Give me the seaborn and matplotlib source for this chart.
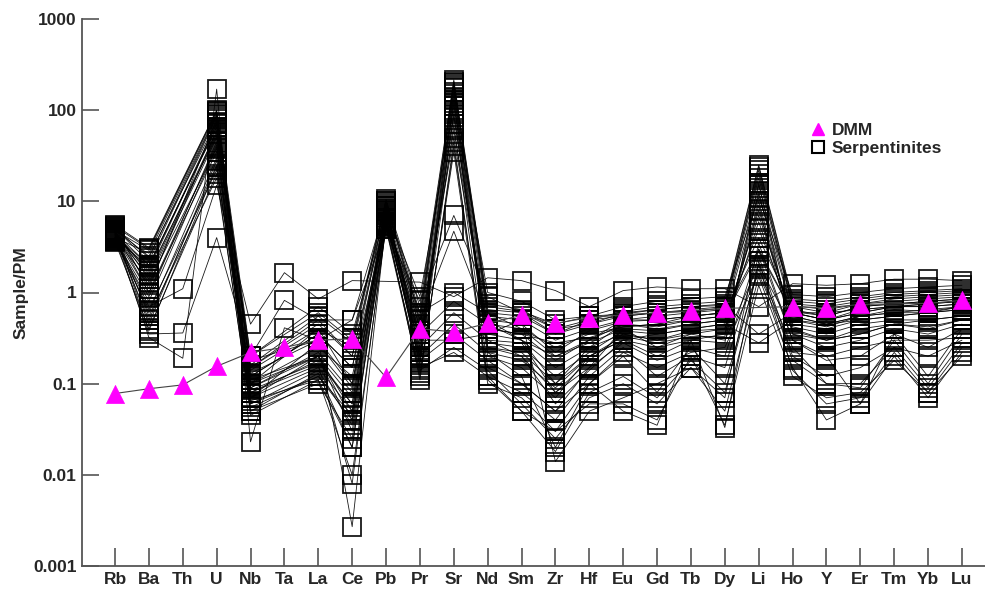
"""
Primitive-mantle normalised spider diagram: serpentinites vs DMM.
"""

import numpy as np
import pandas as pd
import matplotlib.pyplot as plt
import seaborn as sns
from matplotlib.lines import Line2D
from matplotlib.ticker import NullLocator

sns.set_style("ticks")
plt.rcParams["font.family"] = ["Liberation Sans", "DejaVu Sans"]

N = np.nan

ELEMENTS = ["Rb", "Ba", "Th", "U", "Nb", "Ta", "La", "Ce", "Pb", "Pr", "Sr", "Nd", "Sm",
            "Zr", "Hf", "Eu", "Gd", "Tb", "Dy", "Li", "Ho", "Y", "Er", "Tm", "Yb", "Lu"]

DMM = [0.078, 0.088, 0.097, 0.155, 0.22, 0.25, 0.30, 0.31, 0.117, 0.40, 0.37, 0.46, 0.56,
       0.46, 0.53, 0.57, 0.60, 0.63, 0.67, N, 0.70, 0.68, 0.74, N, 0.76, 0.82]

# serpentinite samples, one list per sample in ELEMENTS order (N = not analysed)
S01 = [4.8, 2.9, N, 95, 0.12, N, 0.35, 0.15, 9.5, 0.45, 200, 0.55, 0.5, 0.3, 0.4, 0.5, 0.55, 0.6, 0.65, 18, 0.7, 0.6, 0.75, 0.8, 0.85, 0.9]
S02 = [4.2, 1.8, N, 70, 0.09, N, 0.22, 0.08, 8.0, 0.3, 150, 0.4, 0.35, 0.18, 0.3, 0.45, 0.42, 0.5, 0.55, 12, 0.6, 0.5, 0.65, 0.7, 0.75, 0.8]
S03 = [5.5, 3.1, N, 100, 0.2, N, 0.6, 0.3, 10.5, 0.7, 215, 0.75, 0.65, 0.4, 0.5, 0.62, 0.7, 0.75, 0.8, 25, 0.85, 0.8, 0.9, 1.0, 1.05, 1.1]
S04 = [3.8, 0.9, N, 45, 0.07, N, 0.15, 0.05, 6.5, 0.2, 90, 0.25, 0.22, 0.1, 0.25, 0.35, 0.3, 0.35, 0.4, 6.0, 0.45, 0.4, 0.5, 0.55, 0.6, 0.65]
S05 = [4.5, 1.2, N, 60, 0.06, N, 0.12, 0.04, 7.0, 0.16, 120, 0.2, 0.15, 0.07, 0.2, 0.3, 0.25, 0.3, 0.35, 9.0, 0.35, 0.3, 0.4, 0.45, 0.5, 0.55]
S06 = [4.0, 0.6, N, 30, 0.1, N, 0.25, 0.12, 5.5, 0.35, 60, 0.45, 0.4, 0.25, 0.35, 0.42, 0.45, 0.55, 0.6, 4.0, 0.65, 0.55, 0.7, 0.75, 0.8, 0.85]
S07 = [5.0, 2.2, N, 85, 0.15, N, 0.45, 0.2, 9.0, 0.55, 180, 0.6, 0.55, 0.35, 0.45, 0.55, 0.6, 0.65, 0.7, 20, 0.75, 0.7, 0.8, 0.9, 0.95, 1.0]
S08 = [3.6, 0.4, N, 20, 0.05, N, 0.1, 0.025, 5.0, 0.12, 40, 0.12, 0.08, 0.04, 0.12, 0.25, 0.12, 0.2, 0.15, 2.5, 0.2, 0.12, 0.15, 0.25, 0.2, 0.3]
S09 = [4.3, 1.5, N, 55, 0.08, N, 0.18, 0.06, 7.5, 0.22, 100, 0.28, 0.25, 0.12, 0.22, 0.38, 0.35, 0.4, 0.45, 8.0, 0.5, 0.42, 0.55, 0.6, 0.65, 0.7]
S10 = [4.9, 2.5, N, 75, 0.13, N, 0.3, 0.1, 8.5, 0.4, 160, 0.5, 0.45, 0.22, 0.38, 0.48, 0.5, 0.55, 0.6, 15, 0.62, 0.55, 0.7, 0.75, 0.8, 0.85]
S11 = [4.1, 0.7, 1.1, 15, 0.45, 1.65, 0.85, 1.35, N, 1.3, 0.9, 1.45, 1.35, 1.05, 0.7, 1.05, 1.15, 1.1, 1.1, 0.7, 1.25, 1.2, 1.25, 1.4, 1.4, 1.35]
S12 = [3.9, 0.35, 0.36, 4.0, 0.2, 0.82, 0.5, 0.5, 5.0, 0.8, 7.0, 0.9, 0.6, 0.4, 0.45, 0.6, 0.65, 0.7, 0.72, 0.35, 0.6, 0.6, 0.65, 0.7, 0.75, 0.8]
S13 = [4.4, 0.32, 0.19, 170, 0.023, 0.41, 0.3, 0.0027, 6.0, 0.5, 4.7, 0.5, 0.3, 0.1, 0.2, 0.3, 0.35, 0.4, 0.45, 0.28, 0.5, 0.45, 0.5, 0.55, 0.6, 0.65]
S14 = [4.6, 1.0, N, 35, 0.1, N, 0.4, 0.1, 6.0, 0.6, 1.0, 0.6, 0.4, 0.2, 0.3, 0.5, 0.5, 0.55, 0.6, 3.0, 0.6, 0.5, 0.6, 0.7, 0.7, 0.75]
S15 = [4.0, 0.5, N, 25, 0.07, N, 0.2, 0.03, 5.5, 0.25, 0.6, 0.3, 0.2, 0.08, 0.15, 0.4, 0.25, 0.35, 0.3, 2.0, 0.4, 0.3, 0.35, 0.45, 0.4, 0.5]
S16 = [4.7, 1.4, N, 50, 0.05, N, 0.13, 0.02, 6.8, 0.18, 0.35, 0.18, 0.1, 0.05, 0.1, 0.2, 0.08, 0.25, 0.1, 1.8, 0.25, 0.1, 0.09, 0.3, 0.1, 0.35]
S17 = [3.7, 0.8, N, 40, 0.045, N, 0.11, 0.01, 5.2, 0.14, 0.25, 0.14, 0.06, 0.025, 0.07, 0.1, 0.06, 0.15, 0.05, 1.5, 0.15, 0.04, 0.06, 0.2, 0.07, 0.22]
S18 = [4.2, 2.0, N, 65, 0.15, N, 0.5, 0.2, 7.5, 0.35, 0.8, 0.45, 0.3, 0.15, 0.25, 0.45, 0.4, 0.45, 0.5, 5.0, 0.55, 0.45, 0.55, 0.6, 0.6, 0.7]
S19 = [5.2, 1.1, N, 80, 0.18, N, 0.3, 0.5, 9.0, 0.15, 0.22, 0.12, 0.05, 0.03, 0.06, 0.06, 0.04, 0.2, 0.035, 1.2, 0.12, 0.07, 0.08, 0.18, 0.08, 0.2]
S20 = [4.4, 0.45, N, 28, 0.08, N, 0.16, 0.008, 5.8, 0.2, 0.45, 0.22, 0.12, 0.02, 0.1, 0.05, 0.035, 0.3, 0.033, 2.2, 0.18, 0.1, 0.1, 0.25, 0.09, 0.28]
S21 = [4.6, 1.6, N, 58, 0.11, N, 0.2, 0.04, 7.8, 0.3, 0.3, 0.35, 0.5, 0.014, 0.05, 0.07, 0.1, 0.15, 0.07, 3.5, 0.3, 0.2, 0.06, 0.35, 0.12, 0.4]
S22 = [4.0, 2.7, N, 90, 0.14, N, 0.4, 0.25, 10, 0.5, 190, 0.65, 0.6, 0.35, 0.5, 0.55, 0.6, 0.62, 0.68, 22, 0.72, 0.65, 0.75, 0.85, 0.9, 0.95]
S23 = [3.9, 1.3, N, 38, 0.06, N, 0.14, 0.035, 6.2, 0.17, 70, 0.15, 0.1, 0.05, 0.15, 0.28, 0.18, 0.25, 0.2, 3.0, 0.3, 0.18, 0.2, 0.35, 0.25, 0.4]
S24 = [4.8, 0.55, N, 18, 0.055, N, 0.12, 0.045, 5.3, 0.13, 35, 0.1, 0.07, 0.03, 0.1, 0.22, 0.15, 0.22, 0.25, 1.6, 0.22, 0.2, 0.25, 0.3, 0.3, 0.32]
S25 = [5.3, 3.0, N, 98, 0.16, N, 0.55, 0.28, 10, 0.6, 205, 0.7, 0.62, 0.45, 0.55, 0.58, 0.65, 0.7, 0.75, 24, 0.8, 0.75, 0.85, 0.95, 1.0, 1.05]
S26 = [4.1, 1.0, N, 42, 0.09, N, 0.2, 0.07, 7.0, 0.28, 85, 0.35, 0.3, 0.2, 0.28, 0.4, 0.38, 0.45, 0.5, 7.0, 0.55, 0.45, 0.55, 0.65, 0.62, 0.7]
S27 = [4.5, 2.0, N, 65, 0.07, N, 0.28, 0.09, 8.2, 0.25, 130, 0.3, 0.28, 0.08, 0.18, 0.35, 0.3, 0.38, 0.4, 10, 0.42, 0.35, 0.45, 0.5, 0.5, 0.55]
S28 = [3.7, 0.65, N, 22, 0.12, N, 0.35, 0.15, 5.8, 0.42, 50, 0.4, 0.35, 0.28, 0.32, 0.42, 0.45, 0.5, 0.55, 2.8, 0.6, 0.5, 0.6, 0.7, 0.7, 0.75]
S29 = [5.1, 2.4, N, 88, 0.1, N, 0.2, 0.05, 9.2, 0.22, 175, 0.25, 0.2, 0.06, 0.14, 0.3, 0.2, 0.3, 0.28, 16, 0.35, 0.25, 0.3, 0.4, 0.35, 0.45]
S30 = [4.3, 1.7, N, 52, 0.2, N, 0.7, 0.35, 7.8, 0.9, 110, 1.0, 0.8, 0.5, 0.55, 0.7, 0.8, 0.85, 0.9, 11, 0.95, 0.9, 1.0, 1.1, 1.15, 1.2]
S31 = [4.7, 0.38, N, 24, 0.065, N, 0.11, 0.02, 6.0, 0.11, 45, 0.11, 0.05, 0.018, 0.08, 0.12, 0.07, 0.18, 0.08, 2.0, 0.14, 0.06, 0.07, 0.22, 0.08, 0.25]
S32 = [4.0, 1.9, N, 72, 0.085, N, 0.17, 0.06, 8.8, 0.19, 140, 0.22, 0.18, 0.09, 0.2, 0.33, 0.28, 0.33, 0.33, 13, 0.38, 0.3, 0.35, 0.45, 0.42, 0.5]

SAMPLES = [S01, S02, S03, S04, S05, S06, S07, S08, S09, S10, S11, S12, S13, S14, S15, S16,
           S17, S18, S19, S20, S21, S22, S23, S24, S25, S26, S27, S28, S29, S30, S31, S32]

MAGENTA = "#ff00ff"
W, H = 985, 593


def to_long(series_list) -> pd.DataFrame:
    rows = []
    for k, vals in enumerate(series_list):
        for j, v in enumerate(vals):
            rows.append({"sample": k, "pos": j, "value": v})
    return pd.DataFrame(rows).dropna()


def main():
    fig = plt.figure(figsize=(W / 100, H / 100), dpi=100)
    ax = fig.add_axes([82 / W, 27 / H, 1 - 82 / W, (566 - 19) / H])

    serp = to_long(SAMPLES)
    sns.lineplot(data=serp, x="pos", y="value", units="sample", estimator=None,
                 color="black", lw=0.6, alpha=0.9, marker="s", markersize=13,
                 markerfacecolor="none", markeredgecolor="black", markeredgewidth=1.3,
                 legend=False, ax=ax)

    # DMM: thin dark connecting line, magenta triangles on top
    dmm = to_long([DMM])
    sns.lineplot(data=dmm, x="pos", y="value", units="sample", estimator=None,
                 color="#444444", lw=0.8, legend=False, ax=ax, zorder=4)
    sns.scatterplot(data=dmm, x="pos", y="value", marker="^", s=170, color=MAGENTA,
                    edgecolor=MAGENTA, linewidth=0.5, legend=False, ax=ax, zorder=5)

    ax.set_yscale("log")
    ax.set_ylim(0.001, 1000)
    ax.set_xlim(-0.975, 25.68)
    ticks = [0.001, 0.01, 0.1, 1, 10, 100, 1000]
    ax.set_yticks(ticks, ["0.001", "0.01", "0.1", "1", "10", "100", "1000"])
    ax.yaxis.set_minor_locator(NullLocator())
    ax.set_xticks(range(len(ELEMENTS)), ELEMENTS)

    for lab in ax.get_xticklabels() + ax.get_yticklabels():
        lab.set_fontweight("bold")
        lab.set_fontsize(12.5)
    ax.tick_params(axis="both", direction="in", color="#555555", width=1.2)
    ax.tick_params(axis="x", length=13, pad=4)
    ax.tick_params(axis="y", length=12, pad=4)

    sns.despine(ax=ax)
    for side in ("left", "bottom"):
        ax.spines[side].set_color("#555555")
        ax.spines[side].set_linewidth(1.3)

    ax.set_xlabel("")
    ax.set_ylabel("Sample/PM", fontsize=12.5, fontweight="bold", labelpad=3)

    handles = [
        Line2D([], [], ls="none", marker="^", markersize=8, color=MAGENTA),
        Line2D([], [], ls="none", marker="s", markersize=8, markerfacecolor="none",
               markeredgecolor="black", markeredgewidth=1.5),
    ]
    ax.legend(handles, ["DMM", "Serpentinites"], loc="upper left",
              bbox_to_anchor=(799 / W, 1 - 114 / H), bbox_transform=fig.transFigure,
              frameon=False, prop={"weight": "bold", "size": 12.5},
              handletextpad=0.2, handlelength=1.2, labelspacing=0.2, borderpad=0)

    fig.savefig("out.png", dpi=100)
    plt.close(fig)


if __name__ == "__main__":
    main()
